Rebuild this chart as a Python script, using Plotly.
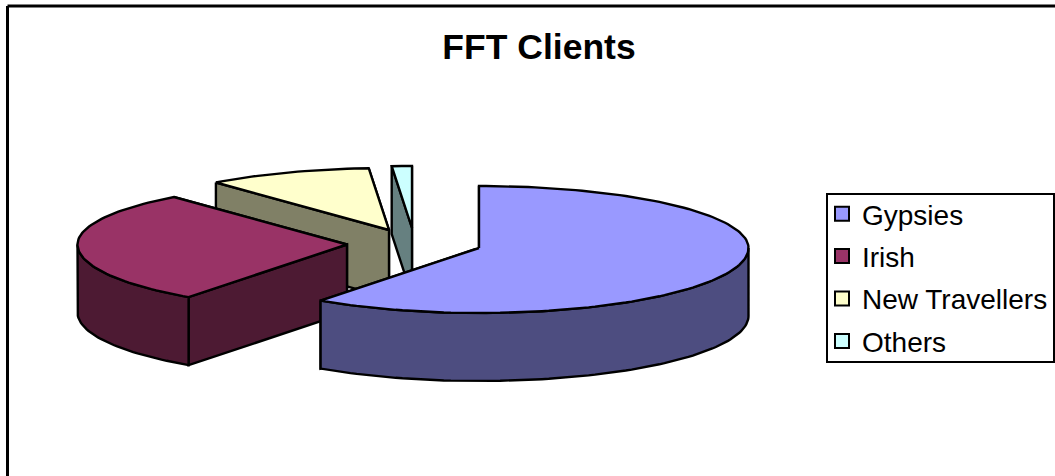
import math
import plotly.graph_objects as go

# Data
categories = ["Gypsies", "Irish", "New Travellers", "Others"]
shares = [60.0, 28.9, 9.9, 1.2]

# Styling
top_colors = ["#9999FF", "#993366", "#FFFFCC", "#CCFFFF"]
wall_colors = ["#4D4D80", "#4D1A33", "#808066", "#668080"]
centers = [(479, 248), (347, 244.5), (389, 230), (412, 228)]
RX, RY_BACK, RY_FRONT, DEPTH = 269.5, 62, 65, 68
W, H = 1055, 476


def rim(c, deg):
    t = math.radians(deg)
    ry = RY_BACK if math.cos(t) > 0 else RY_FRONT
    return c[0] + RX * math.sin(t), c[1] - ry * math.cos(t)


def arc(c, a, b):
    n = max(2, int(abs(b - a) / 1.5) + 1)
    return [rim(c, a + (b - a) * i / (n - 1)) for i in range(n)]


def drop(pts):
    return [(x, y + DEPTH) for x, y in pts]


def poly(pts, color, name=None):
    xs = [p[0] for p in pts] + [pts[0][0]]
    ys = [p[1] for p in pts] + [pts[0][1]]
    return go.Scatter(x=xs, y=ys, mode="lines", fill="toself", fillcolor=color,
                      line=dict(color="black", width=2.4, shape="linear"),
                      showlegend=False, hoverinfo="skip" if name is None else "name",
                      name=name or "")


angles = []
start = 0.0
total = sum(shares)
for s in shares:
    end = start + 360 * s / total
    angles.append((start, end))
    start = end

fig = go.Figure()
# Back slices are painted first, the front slice last.
for i in [3, 2, 1, 0]:
    c, (a, b) = centers[i], angles[i]
    for edge in (b, a):
        p = rim(c, edge)
        fig.add_trace(poly([p, c, (c[0], c[1] + DEPTH), (p[0], p[1] + DEPTH)], wall_colors[i]))
    lo, hi = max(a, 90), min(b, 270)
    if hi > lo:
        outer = arc(c, lo, hi)
        fig.add_trace(poly(outer + drop(outer)[::-1], wall_colors[i]))
    fig.add_trace(poly([c] + arc(c, a, b), top_colors[i], categories[i]))

# Legend entries
for i, name in enumerate(categories):
    fig.add_trace(go.Scatter(
        x=[None], y=[None], mode="markers", name=name, legendgroup=name,
        marker=dict(symbol="square", size=14, color=top_colors[i], line=dict(color="black", width=2)),
    ))

fig.update_layout(
    width=W, height=H, autosize=False,
    margin=dict(l=0, r=0, t=0, b=0),
    paper_bgcolor="white", plot_bgcolor="white",
    xaxis=dict(range=[0, W], visible=False, fixedrange=True),
    yaxis=dict(range=[H, 0], visible=False, fixedrange=True),
    title=dict(text="<b>FFT Clients</b>", x=539 / W, y=1 - 47 / H, xanchor="center", yanchor="middle",
               font=dict(family="Liberation Sans", size=35.5, color="black")),
    legend=dict(
        x=822 / W, y=1 - 189 / H, xanchor="left", yanchor="top",
        bgcolor="rgba(0,0,0,0)", borderwidth=0,
        font=dict(family="Liberation Sans", size=28, color="black"),
        traceorder="grouped", tracegroupgap=3, itemwidth=30,
    ),
    shapes=[
        dict(type="line", xref="x", yref="y", x0=7.5, y0=6, x1=W, y1=6, line=dict(color="black", width=3)),
        dict(type="line", xref="x", yref="y", x0=7.5, y0=6, x1=7.5, y1=H, line=dict(color="black", width=3)),
        dict(type="rect", xref="x", yref="y", x0=827, y0=194, x1=1054, y1=362, line=dict(color="black", width=2)),
    ],
)
fig.write_html("out.html", config={"displayModeBar": False},
               post_script="document.body.style.margin='0';document.documentElement.style.overflow='hidden';")
